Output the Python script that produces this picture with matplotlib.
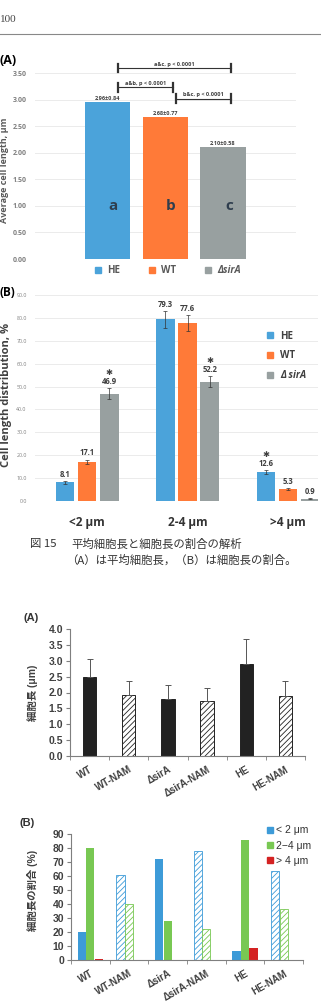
import numpy as np
import matplotlib
matplotlib.use("Agg")
import matplotlib.pyplot as plt
from matplotlib.patches import Patch

plt.rcParams['font.family'] = ['Liberation Sans', 'Noto Sans CJK JP', 'DejaVu Sans']
plt.rcParams['hatch.linewidth'] = 0.6

# ---- data: figure 15 (A) average cell length
avg_strains = ['HE', 'WT', 'ΔsirA']
avg_len = [2.96, 2.68, 2.10]
avg_sd = [0.84, 0.77, 0.58]
avg_letters = ['a', 'b', 'c']
avg_pairs = [(0, 2, 'a&c, p < 0.0001'), (0, 1, 'a&b, p < 0.0001'), (1, 2, 'b&c, p < 0.0001')]
avg_pair_y = [3.59, 3.23, 3.02]

# ---- data: figure 15 (B) cell length distribution
dist_bins = ['<2 μm', '2-4 μm', '>4 μm']
dist_he = [8.1, 79.3, 12.6]
dist_he_err = [0.8, 3.5, 1.0]
dist_wt = [17.1, 77.6, 5.3]
dist_wt_err = [1.0, 3.5, 0.4]
dist_sira = [46.9, 52.2, 0.9]
dist_sira_err = [2.5, 2.5, 0.2]
dist_star_he = [False, False, True]
dist_star_wt = [False, False, False]
dist_star_sira = [True, True, False]

# ---- data: NAM figure (A) cell length
nam_strains = ['WT', 'WT-NAM', 'ΔsirA', 'ΔsirA-NAM', 'HE', 'HE-NAM']
nam_len = [2.50, 1.92, 1.80, 1.74, 2.91, 1.89]
nam_sd = [0.55, 0.44, 0.43, 0.39, 0.77, 0.46]
nam_hatched = [False, True, False, True, False, True]

# ---- data: NAM figure (B) length ratio
ratio_lt2 = [20.0, 60.5, 72.5, 78.0, 6.5, 63.5]
ratio_2to4 = [80.0, 40.0, 28.0, 22.5, 85.5, 36.5]
ratio_gt4 = [0.8, 0.0, 0.0, 0.0, 8.5, 0.0]
ratio_labels = ['< 2 μm', '2−4 μm', '> 4 μm']

W, H = 321, 1008
fig = plt.figure(figsize=(W / 100, H / 100), dpi=100)


def box(x0, y0, x1, y1):
    return [x0 / W, 1 - y1 / H, (x1 - x0) / W, (y1 - y0) / H]


def fx(x):
    return x / W


def fy(y):
    return 1 - y / H


c_he, c_wt, c_sira = '#4BA3DA', '#FF7A38', '#98A0A0'
top_font = ['Open Sans', 'DejaVu Sans']

# page header
fig.text(fx(0), fy(20), '100', fontsize=8, family='Liberation Serif', color='#444444', va='center')
fig.add_artist(plt.Line2D([0, 1], [fy(34), fy(34)], color='#888888', lw=0.8))

# ================= Fig 15 (A)
ax = fig.add_axes(box(35, 55, 296, 259))
x = np.arange(len(avg_strains))
ax.bar(x, avg_len, width=0.78, color=[c_he, c_wt, c_sira], zorder=2)
ax.set_xlim(-1.255, 3.264)
ax.set_ylim(0, 204 / 53.14)
ax.set_yticks(np.arange(0, 3.51, 0.5))
ax.set_yticklabels(['%.2f' % v for v in np.arange(0, 3.51, 0.5)], fontsize=5,
                   fontweight='bold', color='#7f7f7f', family=top_font)
ax.set_xticks([])
ax.tick_params(axis='y', length=0, pad=6)
ax.grid(axis='y', color='#ebebeb', lw=0.7, zorder=0)
for s in ax.spines.values():
    s.set_visible(False)
for i in range(len(x)):
    ax.text(x[i], avg_len[i] + 0.02, '%.2f±%.2f' % (avg_len[i], avg_sd[i]), ha='center', va='bottom',
            fontsize=4, fontweight='bold', color='#404040', family=top_font)
    ax.text(x[i] + 0.1, 1.0, avg_letters[i], ha='center', va='center', fontsize=11,
            fontweight='bold', color='#2f3e4e', family=top_font)
for (a, b, lab), yy in zip(avg_pairs, avg_pair_y):
    xa, xb = a + 0.18, b + 0.13
    ax.plot([xa, xb], [yy, yy], color='#333333', lw=0.8, clip_on=False)
    for xe in (xa, xb):
        ax.plot([xe, xe], [yy - 0.08, yy + 0.08], color='#333333', lw=1.6, clip_on=False)
    ax.text((xa + xb) / 2, yy + 0.03, lab, ha='center', va='bottom', fontsize=4,
            fontweight='bold', color='#404040', family=top_font)
leg = ax.legend(handles=[Patch(color=c) for c in (c_he, c_wt, c_sira)], labels=avg_strains,
                loc='center', bbox_to_anchor=(fx(168), fy(271)), bbox_transform=fig.transFigure,
                ncol=3, frameon=False, handlelength=0.6, handleheight=0.6, handletextpad=0.6,
                columnspacing=3.0, prop={'size': 7, 'weight': 'bold', 'family': top_font})
for t in leg.get_texts():
    t.set_color('#595959')
leg.get_texts()[2].set_style('italic')
fig.text(fx(5), fy(170), 'Average cell length, μm', rotation=90, ha='center', va='center',
         fontsize=6.5, fontweight='bold', color='#595959', family=top_font)
fig.text(fx(0), fy(60), '(A)', fontsize=9, fontweight='bold', va='center', family=top_font)

# ================= Fig 15 (B)
ax = fig.add_axes(box(35, 295, 318, 501))
xb = np.arange(len(dist_bins))
series = [(dist_he, dist_he_err, dist_star_he, c_he, -0.22),
          (dist_wt, dist_wt_err, dist_star_wt, c_wt, 0.0),
          (dist_sira, dist_sira_err, dist_star_sira, c_sira, 0.22)]
for vals, errs, stars, col, off in series:
    ax.bar(xb + off, vals, width=0.185, color=col, zorder=2)
    ax.errorbar(xb + off, vals, yerr=errs, fmt='none', ecolor='#333333', elinewidth=0.5,
                capsize=1.5, capthick=0.5, zorder=3)
    for i in range(len(xb)):
        ax.annotate('%.1f' % vals[i], (xb[i] + off, vals[i] + errs[i]), xytext=(0, 1.5),
                    textcoords='offset points', ha='center', va='bottom', fontsize=5.5,
                    fontweight='bold', color='#404040', family=top_font)
        if stars[i]:
            ax.annotate('✱', (xb[i] + off, vals[i] + errs[i]), xytext=(0, 8),
                        textcoords='offset points', ha='center', va='bottom', fontsize=6,
                        color='#404040', family=['DejaVu Sans'])
ax.set_xlim(-0.52, 2.30)
ax.set_ylim(0, 90)
ax.set_yticks(np.arange(0, 91, 10))
ax.set_yticklabels(['%.1f' % v for v in np.arange(0, 91, 10)], fontsize=3.8,
                   color='#7f7f7f', family=top_font)
ax.set_xticks(xb)
ax.set_xticklabels(dist_bins, fontsize=8.5, fontweight='bold', color='#333333', family=top_font)
ax.tick_params(axis='both', length=0)
ax.tick_params(axis='y', pad=6)
ax.tick_params(axis='x', pad=11)
ax.grid(axis='y', color='#ebebeb', lw=0.7, zorder=0)
for s in ax.spines.values():
    s.set_visible(False)
leg = ax.legend(handles=[Patch(color=c) for c in (c_he, c_wt, c_sira)],
                labels=['HE', 'WT', 'Δ sirA'], loc='upper left',
                bbox_to_anchor=(fx(258), fy(322)), bbox_transform=fig.transFigure,
                frameon=False, handlelength=0.6, handleheight=0.6, handletextpad=0.8,
                labelspacing=0.9, prop={'size': 7, 'weight': 'bold', 'family': top_font})
for t in leg.get_texts():
    t.set_color('#404040')
leg.get_texts()[2].set_style('italic')
fig.text(fx(7), fy(395), 'Cell length distribution, %', rotation=90, ha='center', va='center',
         fontsize=8, fontweight='bold', color='#404040', family=top_font)
fig.text(fx(0), fy(292), '(B)', fontsize=8.5, fontweight='bold', va='center', family=top_font)

# caption
cap_font = ['Noto Sans CJK JP', 'DejaVu Sans']
fig.text(fx(30), fy(544), '図 15', fontsize=8.2, color='#333333', va='center', family=cap_font)
fig.text(fx(71), fy(544), '平均細胞長と細胞長の割合の解析', fontsize=8.2, color='#333333',
         va='center', family=cap_font)
fig.text(fx(66), fy(560), '（A）は平均細胞長，（B）は細胞長の割合。', fontsize=8.2,
         color='#333333', va='center', family=cap_font)

# ================= NAM (A)
spine_c = '#7f7f7f'
ax = fig.add_axes(box(70, 629, 305, 756))
xn = np.arange(len(nam_strains))
for i in range(len(xn)):
    if nam_hatched[i]:
        ax.bar(xn[i], nam_len[i], width=0.34, color='white', edgecolor='#222222', hatch='//////',
               lw=0.7, zorder=2)
    else:
        ax.bar(xn[i], nam_len[i], width=0.34, color='#222222', edgecolor='#222222', lw=0.7, zorder=2)
ax.errorbar(xn, nam_len, yerr=[np.zeros(len(xn)), nam_sd], fmt='none', ecolor='#555555',
            elinewidth=0.7, capsize=2.5, capthick=0.7, zorder=3)
ax.set_xlim(-0.5, len(xn) - 0.5)
ax.set_ylim(0, 4)
ax.set_yticks(np.arange(0, 4.01, 0.5))
ax.set_yticklabels(['%.1f' % v for v in np.arange(0, 4.01, 0.5)], fontsize=7.5,
                   fontweight='bold', color='#404040')
ax.set_xticks(xn)
ax.set_xticks(np.arange(-0.5, len(xn), 1), minor=True)
ax.set_xticklabels(nam_strains, rotation=30, ha='right', rotation_mode='anchor',
                   fontsize=7, fontweight='bold', color='#404040')
ax.tick_params(axis='x', which='major', length=0, pad=6)
ax.tick_params(axis='x', which='minor', length=3, color=spine_c)
ax.tick_params(axis='y', length=3, color=spine_c, pad=2)
for s in ('top', 'right'):
    ax.spines[s].set_visible(False)
for s in ('left', 'bottom'):
    ax.spines[s].set_color(spine_c)
fig.text(fx(33), fy(693), '細胞長 (μm)', rotation=90, ha='center', va='center', fontsize=7.5,
         fontweight='bold', color='#404040')
fig.text(fx(24), fy(618), '(A)', fontsize=8, fontweight='bold', va='center', color='#333333')

# ================= NAM (B)
c_b, c_g, c_r = '#3D9BD8', '#78C853', '#D42222'
ax = fig.add_axes(box(71, 834, 303, 960))
for vals, col, off in ((ratio_lt2, c_b, -0.22), (ratio_2to4, c_g, 0.0), (ratio_gt4, c_r, 0.22)):
    for i in range(len(xn)):
        if nam_hatched[i]:
            ax.bar(xn[i] + off, vals[i], width=0.21, color='white', edgecolor=col, hatch='//////',
                   lw=0.6, zorder=2)
        else:
            ax.bar(xn[i] + off, vals[i], width=0.21, color=col, lw=0, zorder=2)
ax.set_xlim(-0.5, len(xn) - 0.5)
ax.set_ylim(0, 90)
ax.set_yticks(np.arange(0, 91, 10))
ax.set_yticklabels([str(v) for v in range(0, 91, 10)], fontsize=7.5, fontweight='bold',
                   color='#404040')
ax.set_xticks(xn)
ax.set_xticks(np.arange(-0.5, len(xn), 1), minor=True)
ax.set_xticklabels(nam_strains, rotation=30, ha='right', rotation_mode='anchor',
                   fontsize=7, fontweight='bold', color='#404040')
ax.tick_params(axis='x', which='major', length=0, pad=6)
ax.tick_params(axis='x', which='minor', length=3, color=spine_c)
ax.tick_params(axis='y', length=3, color=spine_c, pad=2)
for s in ('top', 'right'):
    ax.spines[s].set_visible(False)
for s in ('left', 'bottom'):
    ax.spines[s].set_color(spine_c)
leg = ax.legend(handles=[Patch(color=c) for c in (c_b, c_g, c_r)], labels=ratio_labels,
                loc='upper left', bbox_to_anchor=(fx(258), fy(816)), bbox_transform=fig.transFigure,
                frameon=False, handlelength=0.55, handleheight=0.55, handletextpad=0.3,
                labelspacing=0.5, prop={'size': 7.5})
for t in leg.get_texts():
    t.set_color('#333333')
fig.text(fx(33), fy(890), '細胞長の割合 (%)', rotation=90, ha='center', va='center', fontsize=7.5,
         fontweight='bold', color='#404040')
fig.text(fx(20), fy(823), '(B)', fontsize=8, fontweight='bold', va='center', color='#333333')

fig.savefig('out.png', dpi=100)
